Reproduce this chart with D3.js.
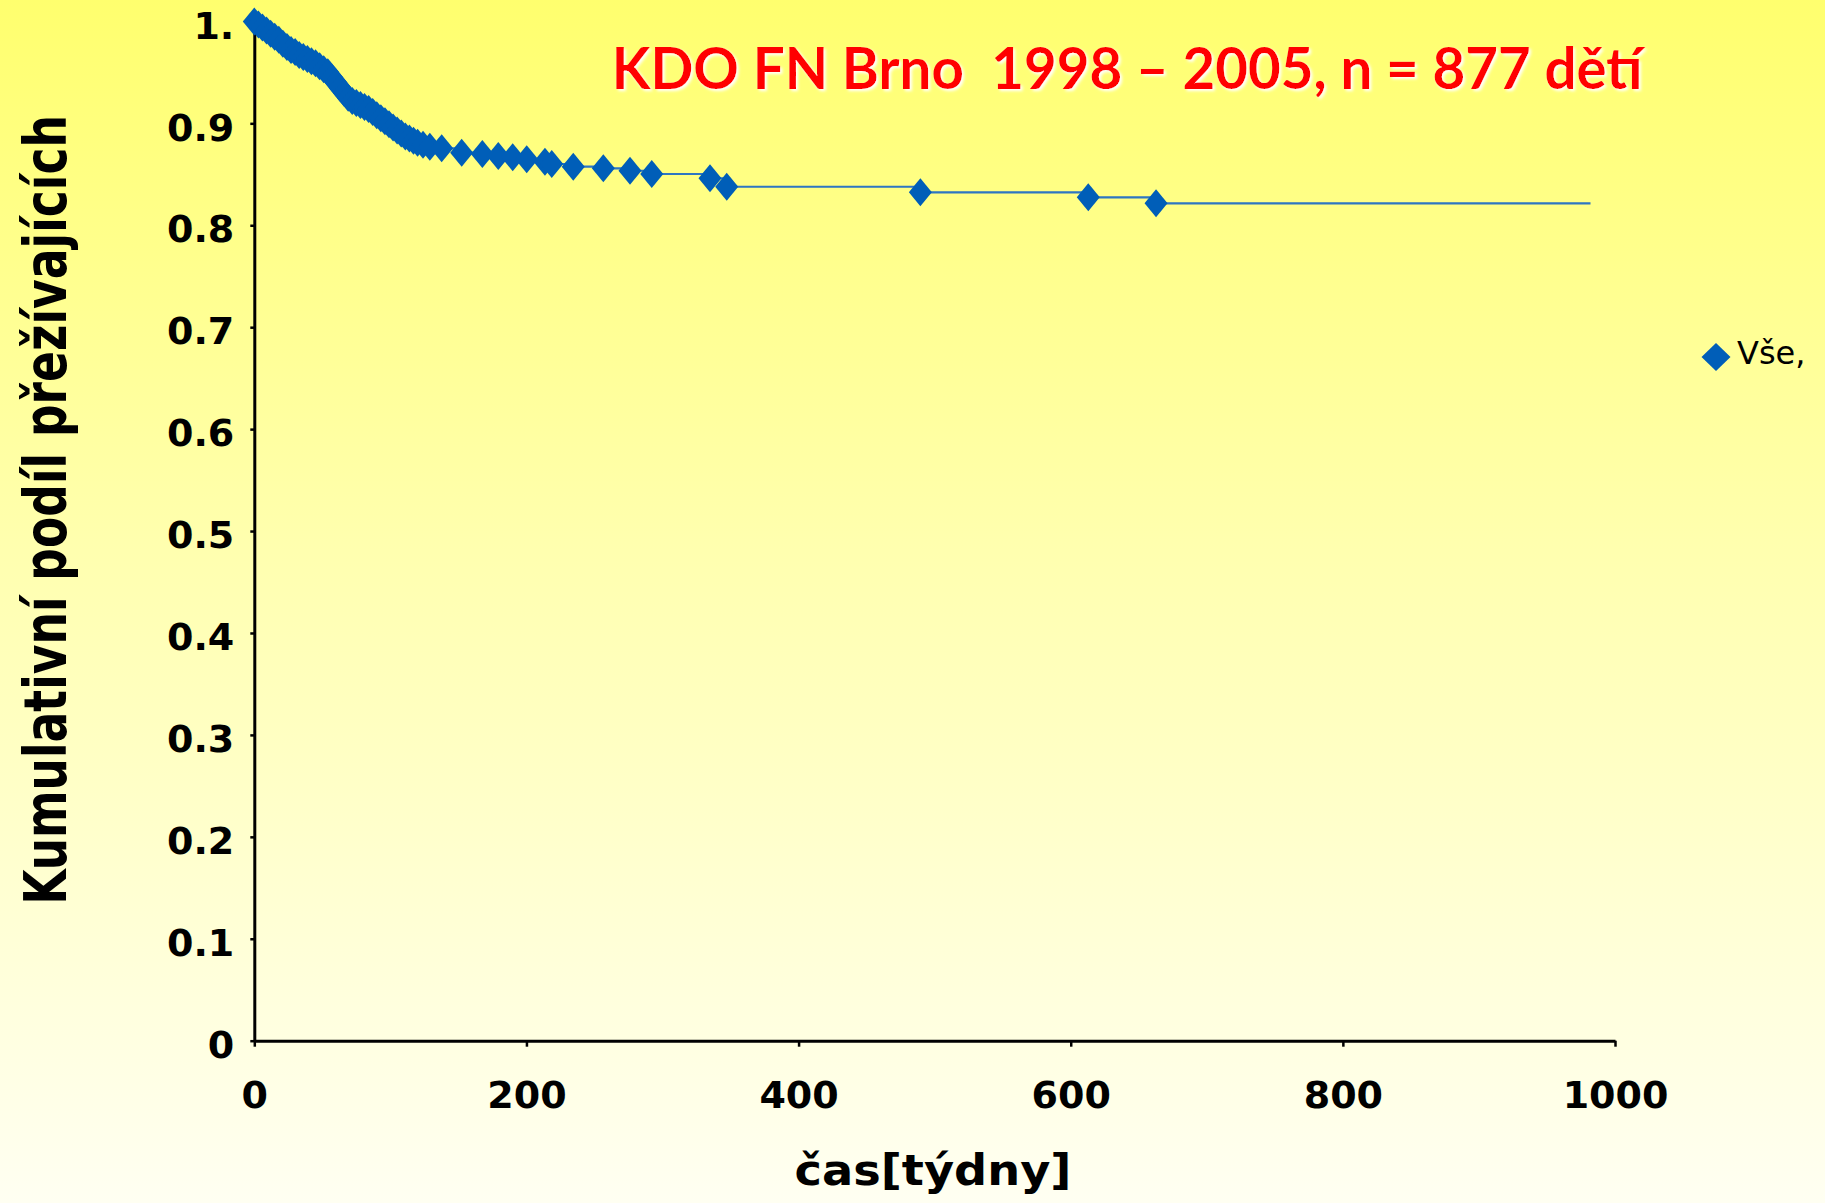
<!DOCTYPE html>
<html>
<head>
<meta charset="utf-8">
<script src="https://cdn.jsdelivr.net/npm/d3@7"></script>
<style>
  html, body { margin: 0; padding: 0; }
  svg { display: block; }
</style>
</head>
<body>
<svg id="chart" width="1825" height="1203"></svg>
<script>
// ---- Data ----
const times = [0, 3, 6, 9, 12, 15, 18, 21, 24, 27, 30, 33, 36, 39, 42, 45, 48, 51, 54, 57,
  60, 63, 66, 69, 72, 75, 78, 81, 84, 87, 90, 93, 96, 99, 102, 105, 108, 111, 114, 117,
  120, 124, 129, 137.7, 152.4, 167.6, 179.3, 189.9, 200.2, 213.6, 218.6, 234.4, 256.5,
  276.1, 292.1, 334.9, 347.2, 489.5, 612.9, 662.7];
const survival = [1.000, 0.997, 0.994, 0.991, 0.988, 0.985, 0.982, 0.978, 0.975, 0.972,
  0.970, 0.967, 0.965, 0.963, 0.961, 0.959, 0.956, 0.953, 0.950, 0.945,
  0.940, 0.935, 0.930, 0.925, 0.922, 0.920, 0.918, 0.916, 0.914, 0.911,
  0.908, 0.905, 0.902, 0.899, 0.896, 0.893, 0.890, 0.887, 0.885, 0.883,
  0.881, 0.879, 0.877, 0.8755, 0.8712, 0.8699, 0.8680, 0.8667, 0.8647, 0.8624,
  0.8601, 0.8575, 0.8559, 0.8535, 0.8503, 0.8461, 0.8378, 0.8323, 0.8274, 0.8215];
const followUpEnd = 982;
const xTicks = [0, 200, 400, 600, 800, 1000];
const yTicks = [0, 0.1, 0.2, 0.3, 0.4, 0.5, 0.6, 0.7, 0.8, 0.9, 1.0];
const yTickLabels = ["0", "0.1", "0.2", "0.3", "0.4", "0.5", "0.6", "0.7", "0.8", "0.9", "1."];
const titleText = "KDO FN Brno  1998 \u2013 2005, n = 877 d\u011bt\u00ed";
const yTitle = "Kumulativn\u00ed pod\u00edl p\u0159e\u017e\u00edvaj\u00edc\u00edch";
const xTitle = "\u010das[t\u00fddny]";
const seriesName = "V\u0161e,";

// ---- Layout ----
const svg = d3.select("#chart");
const W = 1825, H = 1203;

const defs = svg.append("defs");
const grad = defs.append("linearGradient").attr("id", "bg")
  .attr("x1", 0).attr("y1", 0).attr("x2", 0).attr("y2", 1);
grad.append("stop").attr("offset", "0%").attr("stop-color", "#FFFF6E");
grad.append("stop").attr("offset", "45%").attr("stop-color", "#FFFFAE");
grad.append("stop").attr("offset", "100%").attr("stop-color", "#FFFFF2");

const glow = defs.append("filter").attr("id", "glow")
  .attr("x", "-5%").attr("y", "-30%").attr("width", "110%").attr("height", "160%");
glow.append("feDropShadow").attr("dx", 2).attr("dy", 2).attr("stdDeviation", 1.6)
  .attr("flood-color", "#ffffff").attr("flood-opacity", 1);

svg.append("rect").attr("width", W).attr("height", H).attr("fill", "url(#bg)");

const x = d3.scaleLinear().domain([0, 1000]).range([254.3, 1615]);
const y = d3.scaleLinear().domain([0, 1]).range([1040.7, 21.4]);

// Y axis
const yAxis = svg.append("g").attr("transform", `translate(${x(0)},0)`)
  .call(d3.axisLeft(y).tickValues(yTicks)
    .tickFormat((d, i) => yTickLabels[i])
    .tickSize(4).tickSizeOuter(0).tickPadding(16));
yAxis.selectAll("text").attr("dy", "0.44em");

// X axis
const xAxis = svg.append("g").attr("transform", `translate(0,${y(0)})`)
  .call(d3.axisBottom(x).tickValues(xTicks).tickFormat(d3.format("d"))
    .tickSize(6).tickSizeOuter(0).tickPadding(34));

[yAxis, xAxis].forEach(g => {
  g.select(".domain").attr("stroke", "#000").attr("stroke-width", 3);
  g.selectAll(".tick line").attr("stroke", "#000").attr("stroke-width", 2.5);
  g.selectAll("text").attr("fill", "#000")
    .style("font-family", "'DejaVu Sans', Verdana, sans-serif")
    .style("font-weight", "bold").style("font-size", "38px");
});

// Survival step line
const pts = times.map((t, i) => [t, survival[i]]);
const linePts = pts.concat([[followUpEnd, survival[survival.length - 1]]]);
svg.append("path")
  .datum(linePts)
  .attr("fill", "none")
  .attr("stroke", "#2E76C2")
  .attr("stroke-width", 2.2)
  .attr("d", d3.line().x(d => x(d[0])).y(d => y(d[1])).curve(d3.curveStepAfter));

// Diamond markers
const diamond = (cx, cy, rx, ry) => `M${cx},${cy - ry}L${cx + rx},${cy}L${cx},${cy + ry}L${cx - rx},${cy}Z`;
svg.append("g").selectAll("path").data(pts).join("path")
  .attr("d", d => diamond(x(d[0]), y(d[1]), 11.5, 14))
  .attr("fill", "#005EB8");

// Title
svg.append("text")
  .attr("x", 611.7).attr("y", 89)
  .attr("textLength", 1031).attr("lengthAdjust", "spacingAndGlyphs")
  .attr("fill", "#FF0000")
  .attr("filter", "url(#glow)")
  .style("white-space", "pre")
  .attr("xml:space", "preserve")
  .style("font-family", "Lato, 'Open Sans', sans-serif")
  .style("font-weight", "bold").style("font-size", "57px")
  .text(titleText);

// Y axis title: natural length fitted to 790 px, glyph height scaled to the picture
const yT = svg.append("text")
  .attr("text-anchor", "middle")
  .attr("fill", "#000")
  .style("font-family", "'DejaVu Sans', Verdana, sans-serif")
  .style("font-weight", "bold").style("font-size", "58px")
  .text(yTitle);
const natural = yT.node().getComputedTextLength();
const fitSize = 58 * 790 / natural;
yT.style("font-size", fitSize + "px")
  .attr("transform", `translate(66,510) rotate(-90) scale(1,${58 / fitSize})`);

svg.append("text")
  .attr("x", 933).attr("y", 1185)
  .attr("text-anchor", "middle")
  .attr("textLength", 277).attr("lengthAdjust", "spacingAndGlyphs")
  .attr("fill", "#000")
  .style("font-family", "'DejaVu Sans', Verdana, sans-serif")
  .style("font-weight", "bold").style("font-size", "42px")
  .text(xTitle);

// Legend
svg.append("path").attr("d", diamond(1716, 357, 14.5, 14)).attr("fill", "#005EB8");
svg.append("text")
  .attr("x", 1737).attr("y", 364)
  .attr("fill", "#000")
  .style("font-family", "'DejaVu Sans', Verdana, sans-serif")
  .style("font-size", "32px")
  .text(seriesName);
</script>
</body>
</html>
